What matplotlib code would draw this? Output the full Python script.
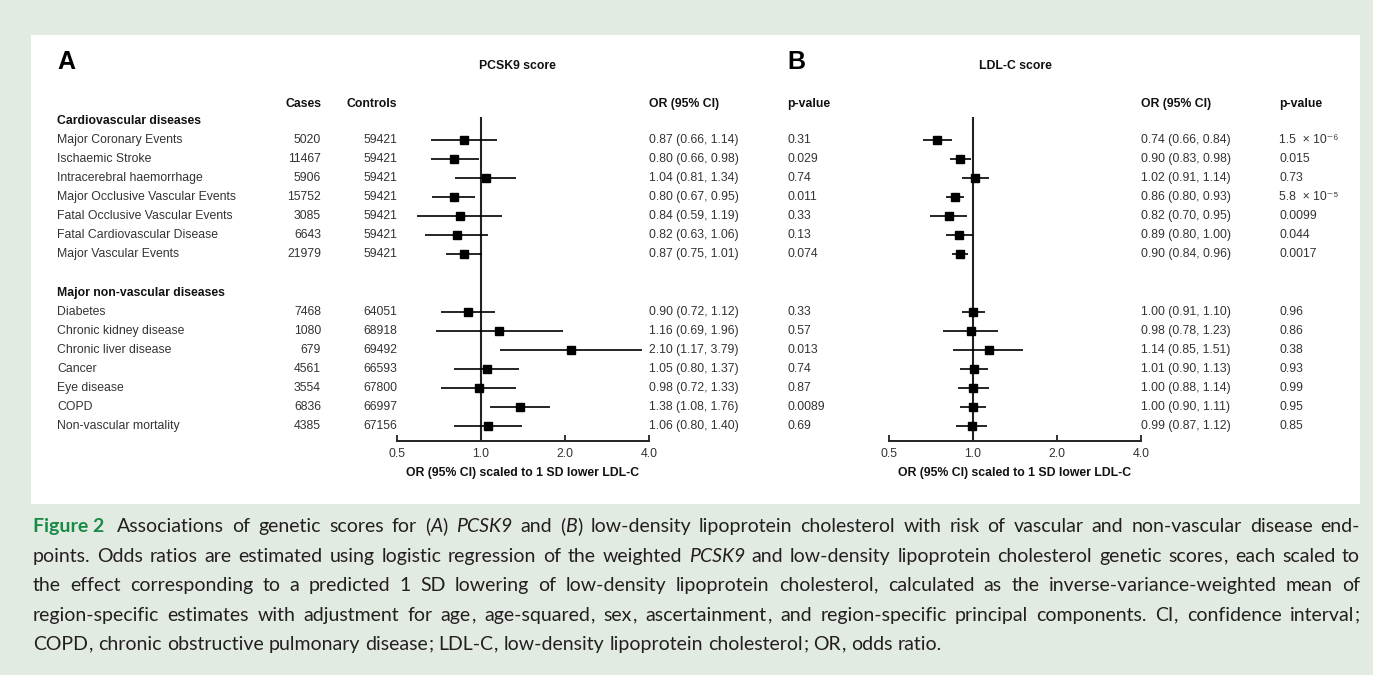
import matplotlib
matplotlib.use("Agg")
import matplotlib.pyplot as plt
import matplotlib.transforms as mtransforms
from matplotlib.patches import Rectangle

# ---------------- data ----------------
cv_labels = ["Major Coronary Events", "Ischaemic Stroke", "Intracerebral haemorrhage",
             "Major Occlusive Vascular Events", "Fatal Occlusive Vascular Events",
             "Fatal Cardiovascular Disease", "Major Vascular Events"]
nv_labels = ["Diabetes", "Chronic kidney disease", "Chronic liver disease", "Cancer",
             "Eye disease", "COPD", "Non-vascular mortality"]
group_titles = ["Cardiovascular diseases", "Major non-vascular diseases"]

cases = [5020, 11467, 5906, 15752, 3085, 6643, 21979,
         7468, 1080, 679, 4561, 3554, 6836, 4385]
controls = [59421, 59421, 59421, 59421, 59421, 59421, 59421,
            64051, 68918, 69492, 66593, 67800, 66997, 67156]

pcsk9_or = [0.87, 0.80, 1.04, 0.80, 0.84, 0.82, 0.87,
            0.90, 1.16, 2.10, 1.05, 0.98, 1.38, 1.06]
pcsk9_lo = [0.66, 0.66, 0.81, 0.67, 0.59, 0.63, 0.75,
            0.72, 0.69, 1.17, 0.80, 0.72, 1.08, 0.80]
pcsk9_hi = [1.14, 0.98, 1.34, 0.95, 1.19, 1.06, 1.01,
            1.12, 1.96, 3.79, 1.37, 1.33, 1.76, 1.40]
pcsk9_p = ["0.31", "0.029", "0.74", "0.011", "0.33", "0.13", "0.074",
           "0.33", "0.57", "0.013", "0.74", "0.87", "0.0089", "0.69"]

ldl_or = [0.74, 0.90, 1.02, 0.86, 0.82, 0.89, 0.90,
          1.00, 0.98, 1.14, 1.01, 1.00, 1.00, 0.99]
ldl_lo = [0.66, 0.83, 0.91, 0.80, 0.70, 0.80, 0.84,
          0.91, 0.78, 0.85, 0.90, 0.88, 0.90, 0.87]
ldl_hi = [0.84, 0.98, 1.14, 0.93, 0.95, 1.00, 0.96,
          1.10, 1.23, 1.51, 1.13, 1.14, 1.11, 1.12]
ldl_p = ["1.5  \u00d7 10\u207b\u2076", "0.015", "0.73", "5.8  \u00d7 10\u207b\u2075", "0.0099",
         "0.044", "0.0017", "0.96", "0.86", "0.38", "0.93", "0.99", "0.95", "0.85"]

xticks = [0.5, 1.0, 2.0, 4.0]
xtick_labels = ["0.5", "1.0", "2.0", "4.0"]
xlabel = "OR (95% CI) scaled to 1 SD lower LDL-C"

caption_lines = [
    "Associations of genetic scores for (_A_) _PCSK9_ and (_B_) low-density lipoprotein cholesterol with risk of vascular and non-vascular disease end-",
    "points. Odds ratios are estimated using logistic regression of the weighted _PCSK9_ and low-density lipoprotein cholesterol genetic scores, each scaled to",
    "the effect corresponding to a predicted 1 SD lowering of low-density lipoprotein cholesterol, calculated as the inverse-variance-weighted mean of",
    "region-specific estimates with adjustment for age, age-squared, sex, ascertainment, and region-specific principal components. CI, confidence interval;",
    "COPD, chronic obstructive pulmonary disease; LDL-C, low-density lipoprotein cholesterol; OR, odds ratio.",
]

# ---------------- setup ----------------
plt.rcParams['font.family'] = ['Liberation Sans', 'DejaVu Sans']
plt.rcParams['mathtext.fontset'] = 'custom'
plt.rcParams['mathtext.rm'] = 'Lato'
plt.rcParams['mathtext.it'] = 'Lato:italic'
plt.rcParams['mathtext.bf'] = 'Lato:bold'

W, H = 1373, 675
fig = plt.figure(figsize=(W / 100, H / 100), dpi=100)
BG = '#e2ebe2'
fig.patch.set_facecolor(BG)


def fx(x):
    return x / W


def fy(y):
    return 1 - y / H


fig.add_artist(Rectangle((fx(31), fy(504)), fx(1360) - fx(31), fy(35) - fy(504),
                         transform=fig.transFigure, facecolor='white',
                         edgecolor='none', zorder=0))

FS = 8.8
TXT = '#333333'
HDR = '#111111'

n = len(cases)
row_y = list(range(1, 8)) + list(range(10, 17))
group_y = [0, 9]
Y0, DY = 121.0, 19.07  # pixel y of row index 0 and row spacing
AX_TOP, AX_BOT = 117, 441


def make_forest(x_left, x_right, ors, los, his):
    ax = fig.add_axes([fx(x_left), fy(AX_BOT), fx(x_right) - fx(x_left),
                       fy(AX_TOP) - fy(AX_BOT)])
    ax.set_facecolor('none')
    ax.set_xscale('log', base=2)
    ax.set_xlim(0.5, 4.0)
    ax.set_ylim((AX_BOT - Y0) / DY, (AX_TOP - Y0) / DY)
    for s in ['top', 'right', 'left']:
        ax.spines[s].set_visible(False)
    ax.spines['bottom'].set_linewidth(1.4)
    ax.spines['bottom'].set_color('#222222')
    ax.set_yticks([])
    ax.set_xticks(xticks)
    ax.set_xticklabels(xtick_labels)
    ax.minorticks_off()
    ax.tick_params(axis='x', direction='in', length=4, width=1.3, color='#222222',
                   labelsize=FS, labelcolor=TXT, pad=5)
    ax.axvline(1.0, color='#222222', lw=1.5, zorder=1)
    ax.hlines(row_y, los, his, color='black', lw=1.2, zorder=2)
    ax.plot(ors, row_y, 's', color='black', ms=5.6, zorder=3)
    fig.text(fx((x_left + x_right) / 2), fy(473), xlabel, fontsize=FS,
             fontweight='bold', color=HDR, ha='center', va='center')
    return ax


axA = make_forest(397, 649, pcsk9_or, pcsk9_lo, pcsk9_hi)
axB = make_forest(889, 1141, ldl_or, ldl_lo, ldl_hi)

trA = mtransforms.blended_transform_factory(fig.transFigure, axA.transData)

# panel letters and titles
fig.text(fx(57), fy(62), "A", fontsize=18, fontweight='bold', ha='left', va='center', color='black')
fig.text(fx(787), fy(62), "B", fontsize=18, fontweight='bold', ha='left', va='center', color='black')
fig.text(fx(517), fy(66), "PCSK9 score", fontsize=FS, fontweight='bold', ha='center', va='center', color=HDR)
fig.text(fx(1015), fy(66), "LDL-C score", fontsize=FS, fontweight='bold', ha='center', va='center', color=HDR)

# column headers
hy = fy(104)
fig.text(fx(321), hy, "Cases", fontsize=FS, fontweight='bold', ha='right', va='center', color=HDR)
fig.text(fx(397), hy, "Controls", fontsize=FS, fontweight='bold', ha='right', va='center', color=HDR)
for xo, xp in [(649, 787), (1141, 1279)]:
    fig.text(fx(xo), hy, "OR (95% CI)", fontsize=FS, fontweight='bold', ha='left', va='center', color=HDR)
    fig.text(fx(xp), hy, "p-value", fontsize=FS, fontweight='bold', ha='left', va='center', color=HDR)

# group titles
for gy, title in zip(group_y, group_titles):
    fig.text(fx(57), gy, title, transform=trA, fontsize=FS, fontweight='bold',
             ha='left', va='center', color=HDR)

labels = cv_labels + nv_labels
for i in range(n):
    y = row_y[i]
    kw = dict(transform=trA, fontsize=FS, va='center', color=TXT)
    fig.text(fx(57), y, labels[i], ha='left', **kw)
    fig.text(fx(321), y, f"{cases[i]}", ha='right', **kw)
    fig.text(fx(397), y, f"{controls[i]}", ha='right', **kw)
    fig.text(fx(649), y, f"{pcsk9_or[i]:.2f} ({pcsk9_lo[i]:.2f}, {pcsk9_hi[i]:.2f})", ha='left', **kw)
    fig.text(fx(787), y, pcsk9_p[i], ha='left', **kw)
    fig.text(fx(1141), y, f"{ldl_or[i]:.2f} ({ldl_lo[i]:.2f}, {ldl_hi[i]:.2f})", ha='left', **kw)
    fig.text(fx(1279), y, ldl_p[i], ha='left', **kw)

# ---------------- caption (justified) ----------------
CAP_FONT = 'Lato'
CAP_COLOR = '#231f20'
GREEN = '#1a8a47'
renderer = fig.canvas.get_renderer()


def parse_word(word):
    trail = ''
    if word and word[-1] in ',;':
        trail = word[-1]
        word = word[:-1]
    parts = word.split('_')
    segs = []
    for k, p in enumerate(parts):
        if p:
            segs.append((p, 'italic' if k % 2 == 1 else 'normal', 'normal', CAP_COLOR, False))
    if trail:
        segs.append((trail, 'normal', 'normal', CAP_COLOR, True))
    return segs


def make_text(x, y, seg, size):
    text, style, weight, color, math = seg
    if math:
        # punctuation through mathtext (Lato) keeps it on the common baseline
        return fig.text(x, y, "${" + text + "}$", fontsize=size,
                        color=color, ha='left', va='baseline')
    return fig.text(x, y, text, fontsize=size, family=CAP_FONT, style=style,
                    fontweight=weight, color=color, ha='left', va='baseline')


def width_of(seg, size):
    t = make_text(0, 0, seg, size)
    w = t.get_window_extent(renderer).width
    t.remove()
    return w


def space_width(size):
    a = ('a a', 'normal', 'normal', CAP_COLOR, False)
    b = ('aa', 'normal', 'normal', CAP_COLOR, False)
    return width_of(a, size) - width_of(b, size)


tokens_lines = []
for li, line in enumerate(caption_lines):
    toks = [parse_word(w) for w in line.split(' ')]
    if li == 0:
        toks = [[("Figure 2", 'normal', 'bold', GREEN, False)]] + toks
    tokens_lines.append(toks)

L, R = 33, 1360
base = 14.0


def natural_width(toks, size):
    tot = sum(width_of(s, size) for t in toks for s in t)
    return tot + space_width(size) * (len(toks) - 1)


ratios = [(R - L) / natural_width(t, base) for t in tokens_lines[:4]]
CAP_FS = min(base, base * min(ratios) * 1.02)

baselines = [532, 562, 591, 621, 650]
sp = space_width(CAP_FS)
for li, toks in enumerate(tokens_lines):
    widths = [[width_of(s, CAP_FS) for s in t] for t in toks]
    word_w = [sum(w) for w in widths]
    justify = li < 4
    extra = sp * 1.0 if li == 0 else 0.0
    if justify:
        gap = (R - L - sum(word_w) - extra) / (len(toks) - 1)
    else:
        gap = sp
    x = L
    for k, (t, ws) in enumerate(zip(toks, widths)):
        xx = x
        for s, w in zip(t, ws):
            make_text(fx(xx), fy(baselines[li]), s, CAP_FS)
            xx += w
        x += word_w[k] + gap
        if k == 0 and li == 0:
            x += extra

fig.savefig("out.png", dpi=100, facecolor=BG)
